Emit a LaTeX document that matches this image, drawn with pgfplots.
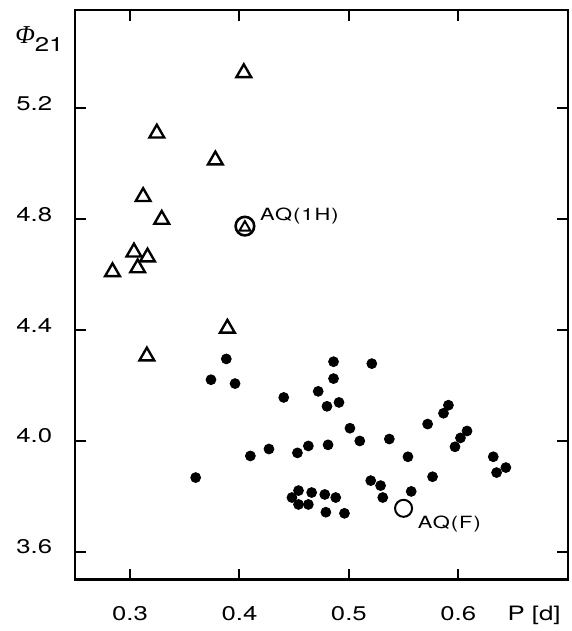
\documentclass[border=0pt]{standalone}
\usepackage{fontspec}
\setmainfont{TeX Gyre Heros}[FakeStretch=1.3]
\newfontfamily\aqfont{TeX Gyre Heros}[FakeStretch=1.3,LetterSpace=6]
\newfontfamily\phifont{Liberation Serif}
\usepackage{pgfplots}
\pgfplotsset{compat=1.18}

\begin{document}
\begin{tikzpicture}
\begin{axis}[
    scale only axis,
    width=248.5pt, height=287.5pt,
    xmin=0.25, xmax=0.70,
    ymin=3.5, ymax=5.555,
    axis on top,
    xtick={0.3,0.4,0.5,0.6},
    ytick={3.6,4.0,4.4,4.8,5.2},
    xticklabels={0.3,0.4,0.5,0.6},
    yticklabels={3.6,4.0,4.4,4.8,5.2},
    tick align=inside,
    major tick length=5.5pt,
    tick style={line width=1pt, black},
    axis line style={line width=1.1pt, black},
    font=\fontsize{10}{12}\selectfont,
    every x tick label/.append style={anchor=base, yshift=-20.5pt},
    every y tick label/.append style={anchor=east, inner sep=0pt, xshift=-11.5pt, yshift=2.5pt},
    every axis x label/.style={at={(rel axis cs:0.9316,0)}, anchor=base, yshift=-20.5pt},
    every axis y label/.style={at={(rel axis cs:0,1)}, anchor=north west, inner sep=0pt, xshift=-30.5pt, yshift=-8pt},
    xlabel={P [d]},
    ylabel={{\phifont\itshape\fontsize{13}{14}\selectfont Φ}\raisebox{-4.5pt}{21}},
    clip=false,
]
% first overtone pulsators (triangles)
\addplot[only marks, mark=triangle, mark size=4.3pt, mark options={line width=1.2pt, black}] coordinates {
    (0.404,5.328) (0.3245,5.110) (0.378,5.013) (0.312,4.881)
    (0.329,4.799) (0.3036,4.681) (0.316,4.663) (0.307,4.624)
    (0.284,4.610) (0.3154,4.306) (0.389,4.406)
};
% fundamental mode pulsators (dots)
\addplot[only marks, mark=*, mark size=2.5pt, black] coordinates {
    (0.388,4.296) (0.374,4.221) (0.396,4.207) (0.4405,4.157)
    (0.410,3.946) (0.427,3.971) (0.360,3.868) (0.453,3.957)
    (0.463,3.982) (0.481,3.986) (0.486,4.286) (0.486,4.225)
    (0.472,4.179) (0.480,4.125) (0.491,4.139) (0.521,4.279)
    (0.501,4.046) (0.510,4.000) (0.537,4.007) (0.554,3.943)
    (0.572,4.061) (0.5865,4.100) (0.591,4.129) (0.597,3.979)
    (0.602,4.011) (0.608,4.036) (0.632,3.943) (0.635,3.886)
    (0.6435,3.904) (0.5765,3.871) (0.520,3.857) (0.529,3.839)
    (0.531,3.796) (0.557,3.818) (0.448,3.796) (0.454,3.821)
    (0.454,3.771) (0.463,3.771) (0.466,3.814) (0.478,3.807)
    (0.488,3.796) (0.479,3.743) (0.496,3.739)
};
% AQ (1H)
\addplot[only marks, mark=o, mark size=4.7pt, mark options={line width=1.3pt, black}] coordinates {(0.405,4.775)};
\addplot[only marks, mark=triangle, mark size=3.2pt, mark options={line width=1pt, black}] coordinates {(0.405,4.770)};
% AQ (F)
\addplot[only marks, mark=o, mark size=4.3pt, mark options={line width=1pt, black}] coordinates {(0.550,3.757)};
\node[anchor=west, inner sep=0pt, xshift=7.5pt, yshift=5pt] at (axis cs:0.405,4.775) {\aqfont\fontsize{8.5}{9}\selectfont AQ(1H)};
\node[anchor=west, inner sep=0pt, xshift=7pt, yshift=-8pt] at (axis cs:0.550,3.757) {\aqfont\fontsize{8.5}{9}\selectfont AQ(F)};
\end{axis}
\path (current axis.south west) ++(-38pt,-23pt) rectangle ++(288.5pt,315.5pt);
\end{tikzpicture}
\end{document}
